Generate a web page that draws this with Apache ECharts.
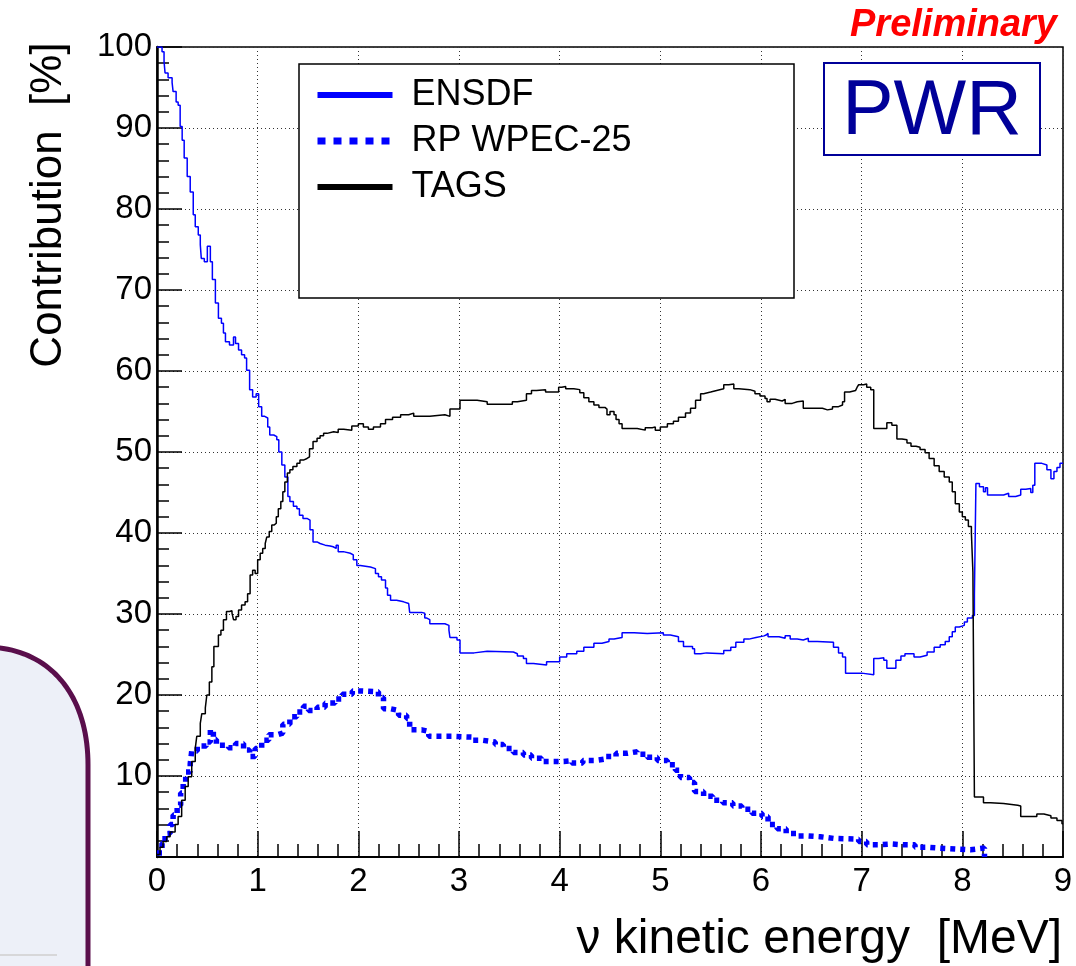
<!DOCTYPE html>
<html>
<head>
<meta charset="utf-8">
<script src="https://cdn.jsdelivr.net/npm/echarts@6/dist/echarts.min.js"></script>
<style>
  html, body { margin: 0; padding: 0; background: #fff; }
  #chart { width: 1076px; height: 966px; }
</style>
</head>
<body>
<div id="chart"></div>
<script>
// Histogram contents: [bin lower edge in MeV, contribution in %]; each value holds until the next edge.
const ensdf = [
  [0.00,100],[0.05,99.4],[0.07,98.2],[0.08,96.8],[0.11,96.2],[0.15,95.6],[0.16,94.5],[0.19,93.2],
  [0.21,92.8],[0.23,90.2],[0.25,88.5],[0.27,86.3],[0.30,84.0],[0.33,82.1],[0.36,79.3],[0.38,77.8],
  [0.41,76.8],[0.43,75.6],[0.44,73.9],[0.47,73.5],[0.50,75.4],[0.53,73.5],[0.55,71.3],[0.58,68.4],
  [0.61,66.5],[0.64,65.9],[0.66,64.7],[0.68,63.6],[0.72,63.2],[0.76,64.2],[0.78,63.4],[0.81,62.6],
  [0.84,62.0],[0.87,61.6],[0.89,60.1],[0.92,57.7],[0.95,56.8],[0.985,57.2],[1.01,55.6],[1.04,54.4],
  [1.07,54.2],[1.10,53.1],[1.12,52.1],[1.16,51.9],[1.19,51.5],[1.21,50.0],[1.24,48.4],[1.27,46.9],
  [1.30,44.5],[1.32,43.9],[1.355,43.3],[1.39,43.0],[1.415,42.2],[1.45,41.8],[1.49,41.6],[1.52,40.4],
  [1.55,38.9],[1.59,38.7],[1.62,38.5],[1.67,38.4],[1.72,38.3],[1.75,38.1],[1.78,38.5],[1.80,37.7],
  [1.85,37.5],[1.92,37.3],[1.95,36.7],[1.985,36.0],[2.02,35.8],[2.12,35.6],[2.17,35.0],[2.20,34.6],
  [2.23,34.2],[2.27,33.2],[2.29,32.3],[2.32,31.7],[2.38,31.5],[2.45,31.3],[2.50,31.1],[2.51,30.2],
  [2.63,30.1],[2.66,29.5],[2.68,29.3],[2.71,28.8],[2.86,28.6],[2.90,28.0],[2.91,27.1],[2.98,26.8],
  [3.01,25.2],[3.15,25.4],[3.28,25.3],[3.54,25.1],[3.58,24.8],[3.64,24.5],[3.67,23.9],[3.74,23.7],
  [3.87,24.1],[4.00,24.7],[4.07,25.1],[4.17,25.4],[4.24,25.9],[4.34,26.4],[4.42,26.6],[4.49,26.9],
  [4.54,27.1],[4.62,27.7],[4.74,27.6],[4.87,27.7],[5.03,27.4],[5.10,27.2],[5.18,26.6],[5.23,26.0],
  [5.32,25.7],[5.34,25.1],[5.40,25.2],[5.46,25.1],[5.63,25.5],[5.70,25.9],[5.75,26.5],[5.83,26.9],
  [5.88,27.1],[5.95,27.3],[6.03,27.4],[6.05,27.6],[6.07,27.2],[6.18,27.0],[6.24,27.3],[6.29,26.9],
  [6.36,26.8],[6.42,27.0],[6.47,26.6],[6.56,26.5],[6.72,25.9],[6.77,25.2],[6.81,24.7],[6.84,22.7],
  [7.00,22.5],[7.12,24.5],[7.17,24.6],[7.22,24.3],[7.25,23.3],[7.34,24.3],[7.39,24.8],[7.43,25.1],
  [7.52,24.7],[7.58,24.9],[7.65,25.3],[7.72,25.9],[7.78,26.2],[7.83,26.6],[7.87,27.2],[7.90,27.8],
  [7.93,28.4],[7.97,28.6],[8.02,29.0],[8.05,29.5],[8.10,29.8],[8.12,32.4],[8.135,46.1],[8.17,45.7],
  [8.21,45.1],[8.23,45.6],[8.25,44.7],[8.41,44.9],[8.46,44.5],[8.53,44.7],[8.58,45.4],[8.63,45.5],
  [8.68,45.0],[8.70,45.9],[8.72,48.6],[8.79,48.4],[8.84,47.8],[8.88,46.7],[8.91,47.6],[8.94,48.1],
  [8.97,48.6],[9.00,48.6]
];

const rpWpec25 = [
  [0.00,0.5],[0.05,1.7],[0.08,2.9],[0.13,4.0],[0.16,5.2],[0.20,6.4],[0.235,7.9],[0.26,9.3],
  [0.285,10.5],[0.33,11.5],[0.345,13.1],[0.40,13.7],[0.49,14.2],[0.53,15.7],[0.56,14.5],[0.59,13.8],
  [0.71,13.5],[0.78,14.0],[0.86,13.2],[0.92,12.4],[0.975,13.4],[1.04,14.4],[1.11,15.1],[1.20,15.3],
  [1.25,16.4],[1.32,17.3],[1.39,17.9],[1.455,18.6],[1.505,18.1],[1.59,18.5],[1.67,19.0],[1.77,19.5],
  [1.84,20.1],[1.94,20.5],[2.04,20.4],[2.20,19.7],[2.25,18.3],[2.32,18.1],[2.40,17.5],[2.48,17.1],
  [2.51,15.7],[2.63,15.5],[2.70,14.9],[2.94,14.8],[3.13,14.4],[3.24,14.2],[3.36,13.9],[3.44,13.4],
  [3.54,12.9],[3.64,12.6],[3.72,12.2],[3.82,11.8],[4.04,11.9],[4.12,11.6],[4.23,11.9],[4.35,12.1],
  [4.46,12.4],[4.56,12.8],[4.67,13.0],[4.77,12.7],[4.87,12.3],[4.97,11.9],[5.07,11.4],[5.15,10.7],
  [5.20,9.8],[5.29,9.2],[5.34,8.1],[5.43,7.5],[5.52,7.0],[5.62,6.7],[5.72,6.3],[5.81,5.9],
  [5.91,5.4],[6.01,5.0],[6.07,4.0],[6.16,3.5],[6.25,2.9],[6.36,2.6],[6.47,2.5],[6.59,2.3],
  [6.72,2.2],[6.97,1.9],[7.05,1.5],[7.17,1.6],[7.30,1.5],[7.42,1.5],[7.53,1.2],[7.66,1.1],
  [7.77,0.9],[8.08,1.1],[8.22,0]
];

const tags = [
  [0.00,0.3],[0.03,1.2],[0.06,1.9],[0.096,2.5],[0.13,3.1],[0.18,4.0],[0.21,5.0],[0.245,7.0],
  [0.28,8.7],[0.31,9.9],[0.345,11.8],[0.38,13.4],[0.395,14.9],[0.43,16.5],[0.445,17.7],[0.48,18.4],
  [0.495,20.0],[0.52,21.6],[0.545,23.5],[0.565,26.0],[0.61,27.4],[0.635,28.0],[0.66,29.3],[0.69,30.3],
  [0.72,30.4],[0.745,30.1],[0.76,29.3],[0.785,29.7],[0.81,30.5],[0.84,31.1],[0.875,31.5],[0.90,32.5],
  [0.925,34.8],[0.95,35.4],[0.975,35.0],[1.00,36.7],[1.025,37.5],[1.05,38.1],[1.075,38.7],[1.09,39.5],
  [1.115,40.2],[1.14,41.0],[1.165,41.2],[1.185,42.0],[1.205,43.0],[1.23,43.9],[1.25,45.1],[1.27,46.3],
  [1.295,47.4],[1.32,47.8],[1.35,48.2],[1.39,48.6],[1.42,49.0],[1.455,49.2],[1.49,49.4],[1.515,50.4],
  [1.55,51.3],[1.59,51.7],[1.62,52.0],[1.655,52.3],[1.69,52.5],[1.755,52.4],[1.80,52.8],[1.855,52.7],
  [1.935,53.2],[2.00,53.5],[2.05,53.1],[2.10,52.8],[2.15,53.1],[2.22,53.5],[2.27,54.0],[2.34,54.3],
  [2.42,54.6],[2.50,54.8],[2.55,54.4],[2.71,54.6],[2.86,54.4],[2.91,55.3],[3.01,56.4],[3.18,56.2],
  [3.28,55.9],[3.53,56.2],[3.58,56.4],[3.67,57.2],[3.72,57.6],[3.77,57.7],[3.86,57.4],[3.99,58.0],
  [4.02,58.1],[4.06,57.8],[4.14,57.7],[4.20,57.3],[4.24,56.7],[4.29,56.2],[4.34,55.8],[4.39,55.5],
  [4.45,55.3],[4.47,54.6],[4.50,55.0],[4.54,54.6],[4.56,54.0],[4.59,53.5],[4.62,52.9],[4.77,52.7],
  [4.85,53.0],[4.92,53.1],[4.95,52.7],[5.00,53.1],[5.07,53.5],[5.13,53.8],[5.18,54.3],[5.25,54.8],
  [5.30,55.4],[5.35,56.4],[5.40,57.2],[5.43,57.4],[5.50,57.6],[5.56,57.8],[5.63,58.3],[5.68,58.4],
  [5.73,57.8],[5.78,57.7],[5.89,57.5],[5.94,57.2],[5.99,56.9],[6.04,56.6],[6.06,56.2],[6.09,56.5],
  [6.14,56.3],[6.21,56.5],[6.24,56.0],[6.31,56.2],[6.36,56.3],[6.42,55.4],[6.61,55.2],[6.66,55.3],
  [6.71,55.6],[6.77,55.8],[6.81,56.2],[6.83,57.4],[6.88,57.6],[6.94,57.4],[6.955,58.0],[6.97,58.3],
  [7.02,58.4],[7.05,58.0],[7.09,57.7],[7.12,52.9],[7.25,53.6],[7.30,53.3],[7.35,51.6],[7.40,51.5],
  [7.45,51.1],[7.49,50.7],[7.54,50.6],[7.58,50.3],[7.63,49.9],[7.67,49.2],[7.72,48.3],[7.77,47.6],
  [7.82,46.9],[7.87,46.3],[7.90,45.1],[7.93,43.6],[7.97,42.6],[8.00,42.0],[8.03,41.6],[8.06,40.8],
  [8.09,40.0],[8.105,35.2],[8.12,7.4],[8.21,6.7],[8.28,6.6],[8.41,6.4],[8.55,6.3],[8.58,5.0],
  [8.74,5.3],[8.81,5.1],[8.88,4.8],[8.94,4.5],[8.99,4.1],[9.00,4.1]
];

const xTicks = { min: 0, max: 9, step: 1 };
const yTicks = { min: 0, max: 100, step: 10 };
const seriesNames = ['ENSDF', 'RP WPEC-25', 'TAGS'];

const FONT = '"Liberation Sans", Arial, Helvetica, sans-serif';

// Outline of the rounded slide panel on the left: cubic corner then straight edges.
function panelOutline() {
  const p0 = [-20, 647], c1 = [45, 645], c2 = [88, 690], p3 = [88, 765];
  const pts = [];
  for (let i = 0; i <= 40; i++) {
    const t = i / 40, u = 1 - t;
    pts.push([
      u*u*u*p0[0] + 3*u*u*t*c1[0] + 3*u*t*t*c2[0] + t*t*t*p3[0],
      u*u*u*p0[1] + 3*u*u*t*c1[1] + 3*u*t*t*c2[1] + t*t*t*p3[1]
    ]);
  }
  pts.push([88, 990]);
  return pts;
}

const chart = echarts.init(document.getElementById('chart'), null, { renderer: 'canvas' });

chart.setOption({
  backgroundColor: '#ffffff',
  animation: false,
  grid: {
    left: 157, right: 13, top: 47, bottom: 109,
    show: true, borderColor: '#000', borderWidth: 1.5, backgroundColor: 'transparent'
  },
  xAxis: {
    type: 'value',
    min: xTicks.min, max: xTicks.max, interval: xTicks.step,
    name: 'ν kinetic energy  [MeV]',
    nameLocation: 'end',
    nameGap: -1,
    nameTextStyle: {
      fontFamily: FONT, fontSize: 48, color: '#000',
      align: 'right', verticalAlign: 'top', padding: [59, 0, 0, 0]
    },
    axisLine: { show: true, onZero: false, lineStyle: { color: '#000', width: 2 } },
    axisTick: { show: true, inside: true, length: 26, lineStyle: { color: '#000', width: 1.5 } },
    minorTick: { show: true, splitNumber: 5, length: 13, lineStyle: { color: '#000', width: 1.5 } },
    axisLabel: { fontFamily: FONT, fontSize: 33, color: '#000', margin: 8 },
    splitLine: { show: true, lineStyle: { color: '#333', width: 1, type: [1, 3] } }
  },
  yAxis: {
    type: 'value',
    min: yTicks.min, max: yTicks.max, interval: yTicks.step,
    name: 'Contribution  [%]',
    nameLocation: 'middle',
    nameRotate: 90,
    nameGap: 86,
    nameTextStyle: {
      fontFamily: FONT, fontSize: 44, color: '#000',
      padding: [0, 0, 0, 494]
    },
    axisLine: { show: true, onZero: false, lineStyle: { color: '#000', width: 2.5 } },
    axisTick: { show: true, inside: true, length: 25, lineStyle: { color: '#000', width: 1.5 } },
    minorTick: { show: true, splitNumber: 5, length: 12, lineStyle: { color: '#000', width: 1.5 } },
    axisLabel: {
      fontFamily: FONT, fontSize: 33, color: '#000', margin: 5,
      formatter: v => (v === 0 ? '' : String(v))
    },
    splitLine: { show: true, lineStyle: { color: '#333', width: 1, type: [1, 3] } }
  },
  legend: {
    orient: 'vertical',
    left: 314, top: 77,
    padding: 0,
    itemWidth: 75, itemHeight: 20, itemGap: 10,
    z: 6,
    textStyle: { fontFamily: FONT, fontSize: 36, color: '#000', lineHeight: 36, padding: [0, 0, 0, 14] },
    lineStyle: { width: 6 },
    itemStyle: { color: 'transparent', borderWidth: 0, opacity: 0 },
    data: [
      { name: seriesNames[0] },
      { name: seriesNames[1], lineStyle: { width: 7, type: [8, 8] } },
      { name: seriesNames[2] }
    ]
  },
  graphic: [
    {
      type: 'polygon', z: -1,
      shape: { points: panelOutline().concat([[-20, 990]]) },
      style: { fill: '#edf0f8' }
    },
    {
      type: 'polyline', z: -1,
      shape: { points: panelOutline() },
      style: { stroke: '#5a0f4c', lineWidth: 5, fill: null }
    },
    {
      type: 'line', z: -1,
      shape: { x1: 0, y1: 955, x2: 57, y2: 955 },
      style: { stroke: '#cfcfcf', lineWidth: 1.5 }
    },
    {
      // legend frame
      type: 'rect', z: 5,
      shape: { x: 299, y: 64, width: 495, height: 234 },
      style: { fill: '#fff', stroke: '#000', lineWidth: 1.5 }
    },
    {
      type: 'rect', z: 5,
      shape: { x: 824, y: 63, width: 216, height: 92 },
      style: { fill: '#fff', stroke: '#000099', lineWidth: 2 }
    },
    {
      type: 'text', z: 6,
      x: 932, y: 113,
      style: {
        text: 'PWR', fill: '#000099',
        font: '77px ' + FONT, align: 'center', verticalAlign: 'middle'
      }
    },
    {
      type: 'text', z: 6,
      x: 1057, y: 26,
      style: {
        text: 'Preliminary', fill: '#ff0000',
        font: 'italic bold 38px ' + FONT, align: 'right', verticalAlign: 'middle'
      }
    }
  ],
  series: [
    {
      name: seriesNames[0], type: 'line', step: 'end', data: ensdf,
      symbol: 'none', z: 3,
      lineStyle: { color: '#0000ff', width: 1.5 }, itemStyle: { color: '#0000ff' }
    },
    {
      name: seriesNames[1], type: 'line', step: 'end', data: rpWpec25,
      symbol: 'none', z: 2,
      lineStyle: { color: '#0000ff', width: 5.5, type: [5, 5], cap: 'butt' }, itemStyle: { color: '#0000ff' }
    },
    {
      name: seriesNames[2], type: 'line', step: 'end', data: tags,
      symbol: 'none', z: 3,
      lineStyle: { color: '#000000', width: 1.5 }, itemStyle: { color: '#000000' }
    }
  ]
});
</script>
</body>
</html>
